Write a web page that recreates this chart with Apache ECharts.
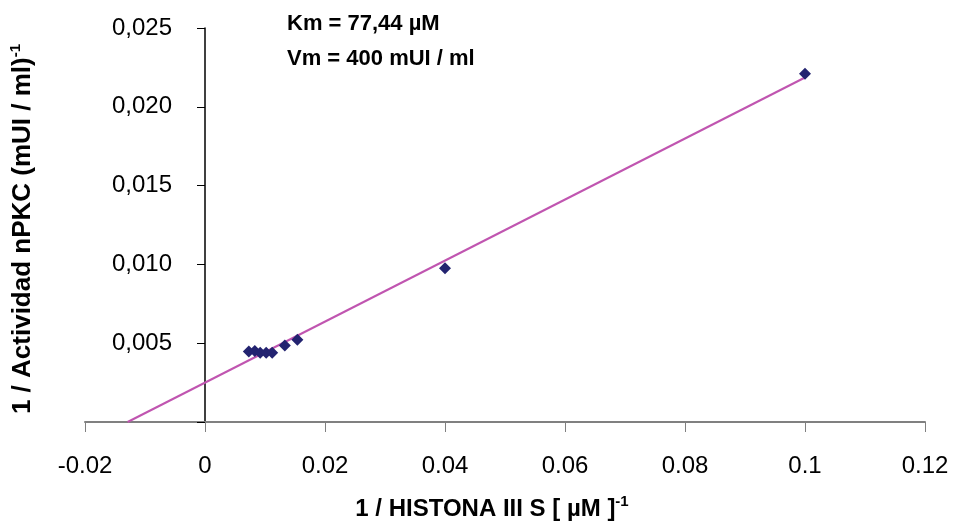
<!DOCTYPE html>
<html>
<head>
<meta charset="utf-8">
<script src="https://cdn.jsdelivr.net/npm/echarts@6/dist/echarts.min.js"></script>
<style>html,body{margin:0;padding:0;background:#fff}#c{width:956px;height:531px}</style>
</head>
<body>
<div id="c"></div>
<script>
// data
const invSubstrate = [0.0073, 0.0083, 0.0092, 0.0102, 0.0112, 0.0133, 0.0154, 0.0400, 0.1000];
const invActivity  = [0.00448, 0.00450, 0.00440, 0.00440, 0.00440, 0.00485, 0.00522, 0.00975, 0.02210];
// trendline endpoints (Lineweaver-Burk fit)
const trendX = [-0.0129, 0.1];
const trendY = [0, 0.02186];
const xTicks = ['-0.02', '0', '0.02', '0.04', '0.06', '0.08', '0.1', '0.12'];
const yTicks = ['', '0,005', '0,010', '0,015', '0,020', '0,025'];
const annotations = ['Km = 77,44 µM', 'Vm = 400 mUI / ml'];

const FONT = 'Liberation Sans, Arial, sans-serif';
const chart = echarts.init(document.getElementById('c'), null, {renderer: 'canvas'});
chart.setOption({
  animation: false,
  backgroundColor: '#fff',
  grid: {left: 85, right: 31, top: 28, bottom: 109},
  xAxis: {
    type: 'value', min: -0.02, max: 0.12, interval: 0.02,
    axisLine: {show: true, onZero: true, lineStyle: {color: '#808080', width: 2}},
    axisTick: {show: true, length: 10, lineStyle: {color: '#808080', width: 1}},
    splitLine: {show: false},
    axisLabel: {
      margin: 32, color: '#000', fontFamily: FONT, fontSize: 24,
      formatter: (v) => xTicks[Math.round((v + 0.02) / 0.02)]
    }
  },
  yAxis: {
    type: 'value', min: 0, max: 0.025, interval: 0.005,
    axisLine: {show: true, onZero: true, lineStyle: {color: '#000', width: 1.5}},
    axisTick: {show: true, length: 8, lineStyle: {color: '#000', width: 1}},
    splitLine: {show: false},
    axisLabel: {
      margin: -87, color: '#000', fontFamily: FONT, fontSize: 24,
      formatter: (v) => yTicks[Math.round(v / 0.005)]
    }
  },
  graphic: [
    {
      type: 'text', left: 287, top: 13,
      style: {text: annotations[0], font: 'bold 22px ' + FONT, fill: '#000'}
    },
    {
      type: 'text', left: 287, top: 48,
      style: {text: annotations[1], font: 'bold 22px ' + FONT, fill: '#000'}
    },
    {
      type: 'text', x: 23, y: 229, rotation: Math.PI / 2,
      style: {
        text: '{a|1 / Actividad nPKC (mUI / ml)}{s|-1}',
        align: 'center', verticalAlign: 'middle',
        rich: {
          a: {font: 'bold 26px ' + FONT, fill: '#000', lineHeight: 30},
          s: {font: 'bold 15px ' + FONT, fill: '#000', padding: [0, 0, 15, 0], lineHeight: 30}
        }
      }
    },
    {
      type: 'text', x: 492, y: 509,
      style: {
        text: '{a|1 / HISTONA III S [ µM ]}{s|-1}',
        align: 'center', verticalAlign: 'middle',
        rich: {
          a: {font: 'bold 24px ' + FONT, fill: '#000', lineHeight: 28},
          s: {font: 'bold 15px ' + FONT, fill: '#000', padding: [0, 0, 14, 0], lineHeight: 28}
        }
      }
    }
  ],
  series: [
    {
      type: 'line', data: trendX.map((x, i) => [x, trendY[i]]),
      showSymbol: false, symbol: 'none',
      lineStyle: {color: '#c055b0', width: 2}, z: 2
    },
    {
      type: 'scatter', data: invSubstrate.map((x, i) => [x, invActivity[i]]),
      symbol: 'diamond', symbolSize: 12,
      itemStyle: {color: '#232370', opacity: 1}, z: 3
    }
  ]
});
</script>
</body>
</html>
